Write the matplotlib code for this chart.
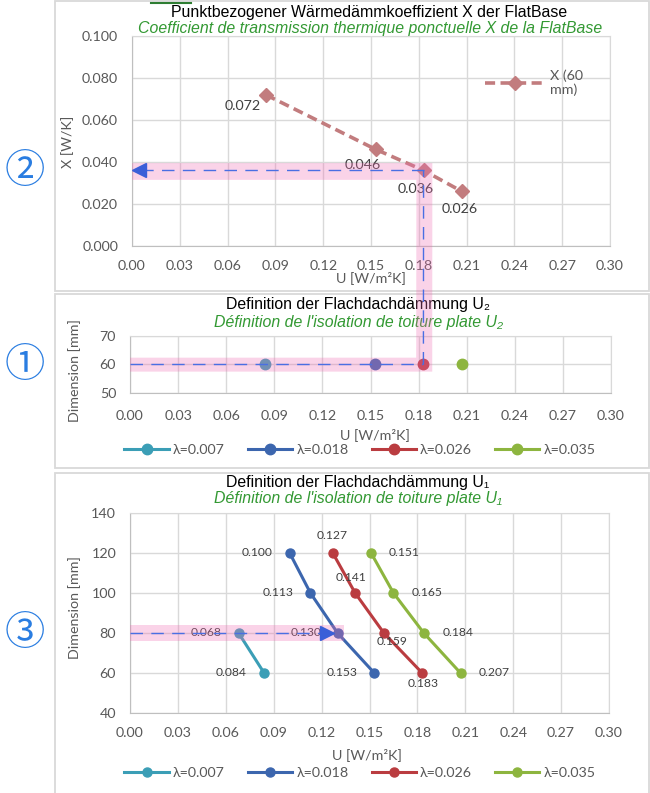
import numpy as np
import matplotlib
matplotlib.use('Agg')
import matplotlib.pyplot as plt
from matplotlib.patches import Polygon, Rectangle
from matplotlib.lines import Line2D

plt.rcParams['font.family'] = ['Lato', 'DejaVu Sans']

# ---- data ----
u_ticks = [0.00, 0.03, 0.06, 0.09, 0.12, 0.15, 0.18, 0.21, 0.24, 0.27, 0.30]

# X (60 mm)
x_u = [0.084, 0.153, 0.183, 0.207]
x_chi = [0.072, 0.046, 0.036, 0.026]
x_label = 'X (60\nmm)'

lam_labels = ['λ=0.007', 'λ=0.018', 'λ=0.026', 'λ=0.035']
lam_colors = ['#3B9EB6', '#3C66AE', '#BA3C40', '#8DB53F']

# U2 (60 mm)
u2_u = [0.084, 0.153, 0.183, 0.207]
u2_dim = [60, 60, 60, 60]

# U1
u1_dim = [[60, 80], [60, 80, 100, 120], [60, 80, 100, 120], [60, 80, 100, 120]]
u1_u = [[0.084, 0.068],
        [0.153, 0.130, 0.113, 0.100],
        [0.183, 0.159, 0.141, 0.127],
        [0.207, 0.184, 0.165, 0.151]]

# selected path
sel_u2 = 0.183
sel_chi = 0.036
sel_dim2 = 60
sel_u1 = 0.130
sel_dim1 = 80

W, H = 650, 793
def fx(x): return x / W
def fy(y): return 1 - y / H

fig = plt.figure(figsize=(6.5, 7.93), dpi=100)

gray = '#595959'
grid = '#D9D9D9'
title_font = ['Liberation Sans', 'DejaVu Sans']

def style(ax, yt, ylim, yfmt, pad):
    ax.set_xlim(0, 0.3)
    ax.set_xticks(u_ticks)
    ax.set_xticklabels(['%.2f' % t for t in u_ticks])
    ax.set_ylim(*ylim)
    ax.set_yticks(yt)
    ax.set_yticklabels([yfmt % t for t in yt])
    ax.grid(color=grid, lw=1)
    ax.set_axisbelow(True)
    for s in ax.spines.values():
        s.set_color(grid)
    ax.spines['left'].set_color('#BFBFBF')
    ax.spines['bottom'].set_color('#BFBFBF')
    ax.tick_params(length=0, labelsize=10.3, labelcolor=gray)
    ax.tick_params(axis='x', pad=pad)
    ax.tick_params(axis='y', pad=10)

ax1 = fig.add_axes([fx(132), fy(246), 478 / W, 210 / H])
ax2 = fig.add_axes([fx(130), fy(393), 481 / W, 57 / H])
ax3 = fig.add_axes([fx(130), fy(713), 479 / W, 200 / H])

style(ax1, [0, 0.02, 0.04, 0.06, 0.08, 0.1], (0, 0.1), '%.3f', 10)
style(ax2, [50, 60, 70], (50, 70), '%d', 12)
style(ax3, [40, 60, 80, 100, 120, 140], (40, 140), '%d', 10)

# panel borders
for y0, y1 in [(1, 291), (294, 468), (473, 800)]:
    fig.add_artist(Rectangle((fx(55), fy(y1)), (649 - 55) / W, (y1 - y0) / H,
                             fill=False, ec=grid, lw=1.3, transform=fig.transFigure, zorder=-1))
fig.add_artist(Line2D([fx(151), fx(191)], [fy(3), fy(3)], color='#2E7D32', lw=1.5,
                      transform=fig.transFigure))

# ---- panel 1 ----
ax1.plot(x_u, x_chi, color='#C27C7E', lw=2.6, ls=(0, (2.8, 1.5)), marker='D', ms=7,
         label=x_label)
x_off = [(-23, 11), (-13, 16), (-8, 19), (-2, 18)]
for u, c, (dx, dy) in zip(x_u, x_chi, x_off):
    ax1.annotate('%.3f' % c, (u, c), xytext=(dx / 1.389, -dy / 1.389), textcoords='offset points',
                 ha='center', va='center', fontsize=10.3, color='#404040')
ax1.legend(loc='upper left', bbox_to_anchor=(fx(478), fy(62)), bbox_transform=fig.transFigure,
           frameon=False, borderpad=0, handlelength=4.2, handletextpad=0.3, fontsize=10.3,
           labelcolor=gray, labelspacing=0.2)

fig.text(fx(369), fy(13), 'Punktbezogener Wärmedämmkoeffizient X der FlatBase', ha='center',
         va='center', fontsize=11.4, family=title_font, color='black')
fig.text(fx(370), fy(29), 'Coefficient de transmission thermique ponctuelle X de la FlatBase',
         ha='center', va='center', fontsize=11.4, family=title_font, style='italic', color='#339933')
fig.text(fx(68), fy(142), 'X [W/K]', rotation=90, ha='center', va='center', fontsize=10.3, color=gray)
fig.text(fx(371), fy(278), 'U [W/m²K]', ha='center', va='center', fontsize=10.3, color=gray)

# ---- panel 2 ----
for u, d, col, lab in zip(u2_u, u2_dim, lam_colors, lam_labels):
    ax2.plot([u], [d], color=col, marker='o', ms=7.5, lw=2.2, label=lab)
fig.text(fx(358), fy(305), 'Definition der Flachdachdämmung U₂', ha='center', va='center',
         fontsize=11.4, family=title_font, color='black')
fig.text(fx(358), fy(323), 'Définition de l\'isolation de toiture plate U₂', ha='center',
         va='center', fontsize=11.4, family=title_font, style='italic', color='#339933')
fig.text(fx(75), fy(371), 'Dimension [mm]', rotation=90, ha='center', va='center', fontsize=10.3,
         color=gray)
fig.text(fx(375), fy(435), 'U [W/m²K]', ha='center', va='center', fontsize=10.3, color=gray)
h2, l2 = ax2.get_legend_handles_labels()
fig.legend(h2, l2, loc='center', bbox_to_anchor=(fx(360), fy(450)), ncol=4, frameon=False,
           handlelength=3.1, handletextpad=0.3, columnspacing=1.6, fontsize=10.3, labelcolor=gray)

# ---- panel 3 ----
for us, ds, col, lab in zip(u1_u, u1_dim, lam_colors, lam_labels):
    ax3.plot(us, ds, color=col, marker='o', ms=6.5, lw=2.2, label=lab)
lab_off = [[(-33, 0), (-32, 0)],
           [(-32, 0), (-32, 0), (-32, 0), (-33, 0)],
           [(1, 11), (8, 9), (-4, -16), (-1, -18)],
           [(34, 0), (34, 0), (34, 0), (33, 0)]]
for us, ds, offs in zip(u1_u, u1_dim, lab_off):
    for u, d, (dx, dy) in zip(us, ds, offs):
        ax3.annotate('%.3f' % u, (u, d), xytext=(dx / 1.389, -dy / 1.389),
                     textcoords='offset points', ha='center', va='center', fontsize=8.7,
                     color='#404040')
fig.text(fx(358), fy(483), 'Definition der Flachdachdämmung U₁', ha='center', va='center',
         fontsize=11.4, family=title_font, color='black')
fig.text(fx(358), fy(499), 'Définition de l\'isolation de toiture plate U₁', ha='center',
         va='center', fontsize=11.4, family=title_font, style='italic', color='#339933')
fig.text(fx(75), fy(608), 'Dimension [mm]', rotation=90, ha='center', va='center', fontsize=10.3,
         color=gray)
fig.text(fx(367), fy(755), 'U [W/m²K]', ha='center', va='center', fontsize=10.3, color=gray)
h3, l3 = ax3.get_legend_handles_labels()
fig.legend(h3, l3, loc='center', bbox_to_anchor=(fx(360), fy(773)), ncol=4, frameon=False,
           handlelength=3.1, handletextpad=0.3, columnspacing=1.6, fontsize=10.3, labelcolor=gray)

# ---- highlight path ----
inv = fig.transFigure.inverted()
def to_fig(ax, x, y):
    return inv.transform(ax.transData.transform((x, y)))

pink = '#F06EB4'
band_l, band_r = sel_u2 - 0.0045, sel_u2 + 0.0055
pts = [to_fig(ax1, 0, sel_chi + 0.0035), to_fig(ax1, band_r, sel_chi + 0.0035),
       to_fig(ax2, band_r, sel_dim2 - 2.5), to_fig(ax2, 0, sel_dim2 - 2.5),
       to_fig(ax2, 0, sel_dim2 + 2.4), to_fig(ax2, band_l, sel_dim2 + 2.4),
       to_fig(ax1, band_l, sel_chi - 0.0045), to_fig(ax1, 0, sel_chi - 0.0045)]
fig.add_artist(Polygon(pts, closed=True, fc=pink, ec='none', alpha=0.3,
                       transform=fig.transFigure, zorder=5))
p3 = [to_fig(ax3, 0, sel_dim1 - 4), to_fig(ax3, 0.134, sel_dim1 + 4)]
fig.add_artist(Rectangle(p3[0], p3[1][0] - p3[0][0], p3[1][1] - p3[0][1], fc=pink, ec='none',
                         alpha=0.3, transform=fig.transFigure, zorder=5))

blue = '#4A6FE3'
def fline(a, b, **kw):
    fig.add_artist(Line2D([a[0], b[0]], [a[1], b[1]], transform=fig.transFigure, **kw))

dash = dict(color=blue, lw=1, ls=(0, (9, 6)), zorder=6)
fline(to_fig(ax2, sel_u2, sel_dim2), to_fig(ax1, sel_u2, sel_chi), **dash)
fline(to_fig(ax1, sel_u2, sel_chi), to_fig(ax1, 0.008, sel_chi), **dash)
fline(to_fig(ax2, 0, sel_dim2), to_fig(ax2, sel_u2, sel_dim2), **dash)
fline(to_fig(ax3, 0, sel_dim1), to_fig(ax3, 0.12, sel_dim1), **dash)

a1 = to_fig(ax1, 0.0043, sel_chi)
fig.add_artist(Line2D([a1[0]], [a1[1]], marker='<', ms=10.5, color='#3A5FD8', mec='#3A5FD8',
                      transform=fig.transFigure, zorder=7))
a3 = to_fig(ax3, 0.1232, sel_dim1)
fig.add_artist(Line2D([a3[0]], [a3[1]], marker='>', ms=9.5, color='#3A5FD8', mec='#3A5FD8',
                      transform=fig.transFigure, zorder=7))

# ---- circled step numbers ----
circ = ['Noto Sans CJK JP', 'DejaVu Sans']
for txt, y in [('②', 172), ('①', 365), ('③', 633)]:
    fig.text(fx(25), fy(y), txt, ha='center', va='center', fontsize=29, color='#2A7DE1',
             family=circ)

fig.savefig('out.png', dpi=100)
